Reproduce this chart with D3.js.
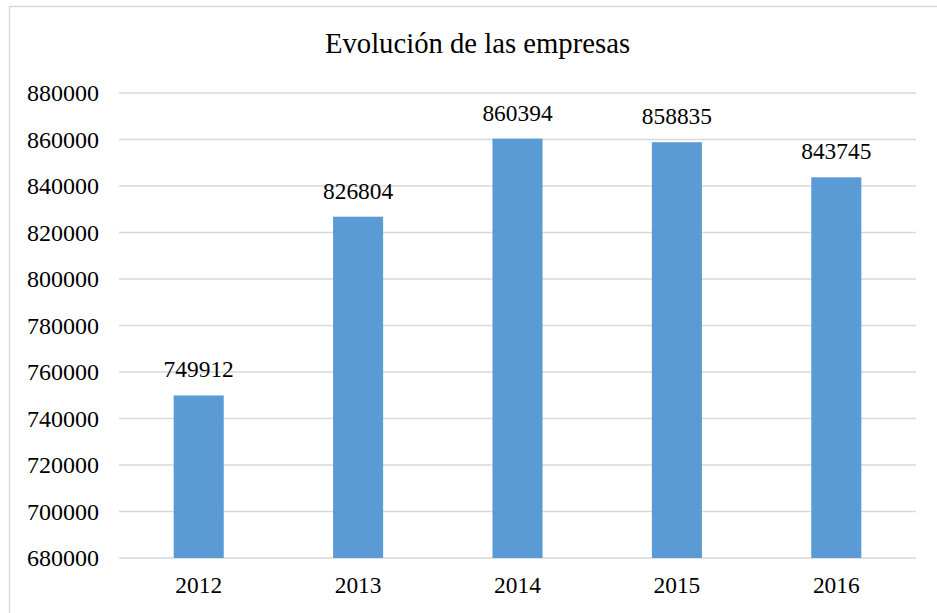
<!DOCTYPE html>
<html>
<head>
<meta charset="utf-8">
<script src="https://cdn.jsdelivr.net/npm/d3@7"></script>
<style>
  body { margin: 0; background: #fff; }
</style>
</head>
<body>
<div id="chart"></div>
<script>
// Data
const years = ["2012", "2013", "2014", "2015", "2016"];
const empresas = [749912, 826804, 860394, 858835, 843745];
const yTicks = [680000, 700000, 720000, 740000, 760000, 780000, 800000, 820000, 840000, 860000, 880000];

const W = 937, H = 613;
const plot = {left: 119, right: 916, top: 93, bottom: 558};
const FONT = "'Times New Roman', 'Liberation Serif', serif";

const svg = d3.select("#chart")
  .append("svg")
    .attr("width", W)
    .attr("height", H)
    .style("font-family", FONT);

// chart border
svg.append("rect")
  .attr("x", 9.5)
  .attr("y", 6.5)
  .attr("width", W)
  .attr("height", H)
  .attr("fill", "none")
  .attr("stroke", "#d9d9d9")
  .attr("stroke-width", 1.5);

const x = d3.scaleBand()
  .domain(years)
  .range([plot.left, plot.right])
  .padding(0);

const y = d3.scaleLinear()
  .domain([680000, 880000])
  .range([plot.bottom, plot.top]);

// Gridlines
svg.append("g")
  .selectAll("line")
  .data(yTicks)
  .join("line")
    .attr("x1", plot.left)
    .attr("x2", plot.right)
    .attr("y1", d => y(d))
    .attr("y2", d => y(d))
    .attr("stroke", "#d9d9d9")
    .attr("stroke-width", 1.3);

// Y axis labels
svg.append("g")
  .selectAll("text")
  .data(yTicks)
  .join("text")
    .attr("x", 99)
    .attr("y", d => y(d))
    .attr("dy", "0.34em")
    .attr("text-anchor", "end")
    .attr("font-family", FONT)
    .style("font-size", "24px")
    .text(d => String(d));

// Bars
const barW = x.bandwidth() * 0.314;
svg.append("g")
  .selectAll("rect")
  .data(empresas)
  .join("rect")
    .attr("x", (d, i) => x(years[i]) + x.bandwidth() / 2 - barW / 2)
    .attr("y", d => y(d))
    .attr("width", barW)
    .attr("height", d => y(680000) - y(d))
    .attr("fill", "#5b9bd5");

// Data labels
svg.append("g")
  .selectAll("text")
  .data(empresas)
  .join("text")
    .attr("x", (d, i) => x(years[i]) + x.bandwidth() / 2)
    .attr("y", d => y(d) - 18)
    .attr("text-anchor", "middle")
    .attr("font-family", FONT)
    .style("font-size", "23.4px")
    .text(d => String(d));

// X axis labels
svg.append("g")
  .selectAll("text")
  .data(years)
  .join("text")
    .attr("x", d => x(d) + x.bandwidth() / 2)
    .attr("y", 593)
    .attr("text-anchor", "middle")
    .attr("font-family", FONT)
    .style("font-size", "23.4px")
    .text(d => d);

// Title
svg.append("text")
  .attr("x", 477.5)
  .attr("y", 53)
  .attr("text-anchor", "middle")
  .attr("font-family", FONT)
  .style("font-size", "28.7px")
  .text("Evolución de las empresas");
</script>
</body>
</html>
